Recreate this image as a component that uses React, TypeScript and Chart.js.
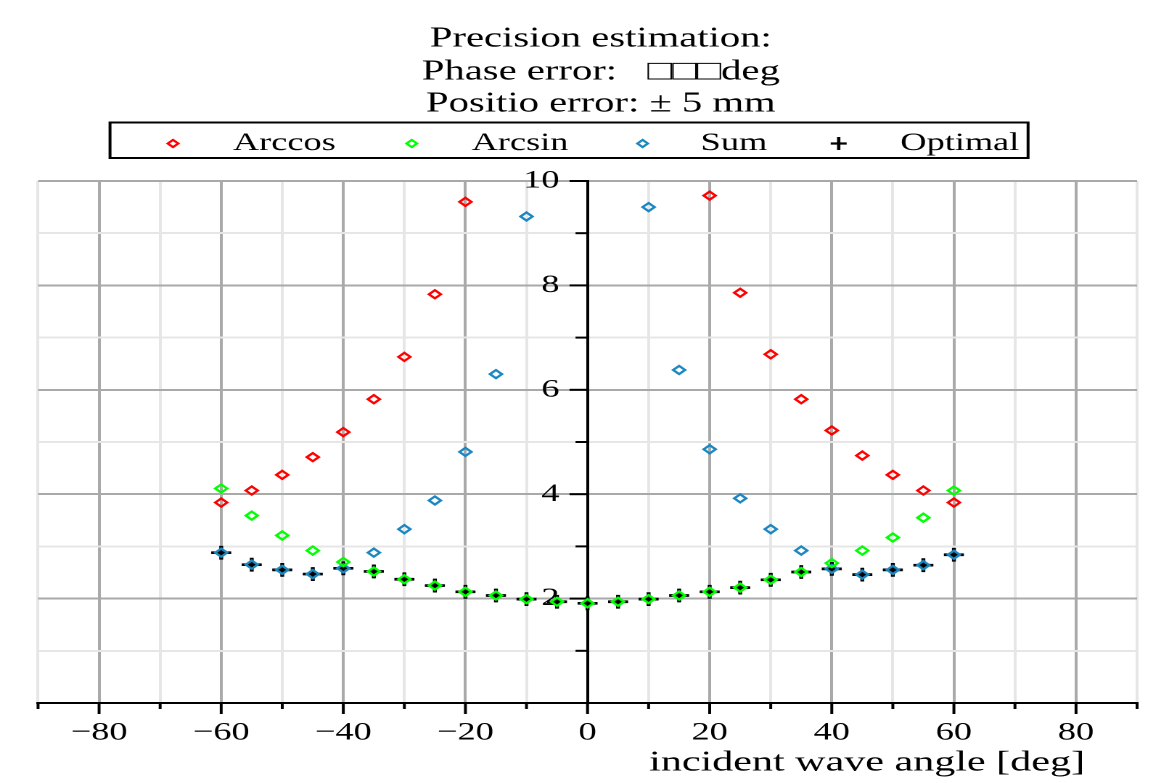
import { useEffect, useRef } from 'react';
import { Chart, registerables } from 'chart.js';

Chart.register(...registerables);

// ---- data ----
const ANGLES = [-60, -55, -50, -45, -40, -35, -30, -25, -20, -15, -10, -5, 0, 5, 10, 15, 20, 25, 30, 35, 40, 45, 50, 55, 60];
const ARCCOS = [3.84, 4.07, 4.37, 4.71, 5.19, 5.82, 6.63, 7.83, 9.6, null, null, null, null, null, null, null, 9.72, 7.86, 6.68, 5.82, 5.22, 4.74, 4.37, 4.07, 3.84];
const ARCSIN = [4.11, 3.59, 3.21, 2.92, 2.7, 2.52, 2.37, 2.25, 2.13, 2.06, 1.99, 1.94, 1.91, 1.94, 1.99, 2.06, 2.13, 2.21, 2.36, 2.51, 2.68, 2.92, 3.17, 3.55, 4.07];
const SUM = [2.88, 2.65, 2.55, 2.47, 2.58, 2.88, 3.33, 3.88, 4.81, 6.3, 9.32, null, null, null, 9.5, 6.38, 4.86, 3.92, 3.33, 2.92, 2.57, 2.46, 2.55, 2.64, 2.84];
const OPTIMAL = [2.88, 2.65, 2.55, 2.47, 2.58, 2.52, 2.37, 2.25, 2.13, 2.06, 1.99, 1.94, 1.91, 1.94, 1.99, 2.06, 2.13, 2.21, 2.36, 2.51, 2.57, 2.46, 2.55, 2.64, 2.84];

const SERIES_NAMES = ['Arccos', 'Arcsin', 'Sum', 'Optimal'];
const X_LABELED_TICKS = [-80, -60, -40, -20, 0, 20, 40, 60, 80];
const Y_LABELED_TICKS = [2, 4, 6, 8, 10];
const TITLE_LINES = ['Precision estimation:', 'Phase error:   \u25A1\u25A1\u25A1deg', 'Positio error: \u00B1 5 mm'];
const X_TITLE = 'incident wave angle [deg]';

const FONT = "'Liberation Serif', 'Times New Roman', 'DejaVu Serif', serif";
const RED = '#ff0000';
const GREEN = '#00ff00';
const BLUE = '#1b87c1';
const BLACK = '#000000';
const MAJOR_GRID = '#a9a9a9';
const MINOR_GRID = '#e6e6e6';

const W = 800; // logical width; displayed stretched to 1161 like the reference
const H = 783;

const toPoints = (vals: (number | null)[]) =>
  ANGLES.map((a, i) => ({ x: a, y: vals[i] })).filter((p) => p.y !== null);

function diamond(ctx: CanvasRenderingContext2D, x: number, y: number, r: number, color: string) {
  ctx.beginPath();
  ctx.moveTo(x - r, y);
  ctx.lineTo(x, y - r);
  ctx.lineTo(x + r, y);
  ctx.lineTo(x, y + r);
  ctx.closePath();
  ctx.strokeStyle = color;
  ctx.lineWidth = 1.9;
  ctx.stroke();
}

const decor = {
  id: 'decor',
  beforeDatasetsDraw(chart: any) {
    const { ctx, chartArea } = chart;
    const xs = chart.scales.x;
    const ys = chart.scales.y;
    ctx.save();
    ctx.strokeStyle = BLACK;
    ctx.lineWidth = 2;
    for (let v = -90; v <= 90; v += 10) {
      const px = xs.getPixelForValue(v);
      const len = v % 20 === 0 ? 11 : 6;
      ctx.beginPath();
      ctx.moveTo(px, chartArea.bottom);
      ctx.lineTo(px, chartArea.bottom + len);
      ctx.stroke();
    }
    const x0 = xs.getPixelForValue(0);
    for (let v = 1; v <= 10; v += 1) {
      const py = ys.getPixelForValue(v);
      const len = v % 2 === 0 ? 12.4 : 8.3;
      ctx.beginPath();
      ctx.moveTo(x0, py);
      ctx.lineTo(x0 - len, py);
      ctx.stroke();
    }
    ctx.restore();
  },
  afterDraw(chart: any) {
    const { ctx } = chart;
    ctx.save();
    // title
    ctx.fillStyle = BLACK;
    ctx.font = `28px ${FONT}`;
    ctx.textAlign = 'center';
    ctx.textBaseline = 'alphabetic';
    const baselines = [46.7, 79.3, 111.7];
    TITLE_LINES.forEach((t, i) => ctx.fillText(t, 414, baselines[i]));

    // legend box
    ctx.strokeStyle = BLACK;
    ctx.lineWidth = 2;
    ctx.strokeRect(75.8, 122.5, 708.4 - 75.8, 158 - 122.5);
    ctx.font = `25px ${FONT}`;
    ctx.textAlign = 'left';
    const ds = chart.data.datasets;
    const markerX = [119.2, 283.7, 442.8, 577.9];
    const textX = [160.5, 325, 482.8, 620.4];
    const my = 143.5;
    for (let i = 0; i < 4; i++) {
      const col = ds[i].borderColor;
      if (i < 3) {
        diamond(ctx, markerX[i], my, 3.6, col);
      } else {
        ctx.strokeStyle = col;
        ctx.lineWidth = 2.3;
        ctx.beginPath();
        ctx.moveTo(markerX[i] - 5.5, my);
        ctx.lineTo(markerX[i] + 5.5, my);
        ctx.moveTo(markerX[i], my - 6.5);
        ctx.lineTo(markerX[i], my + 6.5);
        ctx.stroke();
      }
      ctx.fillStyle = BLACK;
      ctx.fillText(SERIES_NAMES[i], textX[i], 150);
    }

    // x axis title
    ctx.font = `29px ${FONT}`;
    ctx.textAlign = 'right';
    ctx.fillText(X_TITLE, 747.6, 770.5);
    ctx.restore();
  },
};

export default function App() {
  const ref = useRef<HTMLCanvasElement>(null);
  useEffect(() => {
    document.body.style.margin = '0';
    const canvas = ref.current!;
    const mk = (i: number, vals: (number | null)[], color: string, style: string, radius: number, bw: number) => ({
      label: SERIES_NAMES[i],
      data: toPoints(vals),
      borderColor: color,
      backgroundColor: 'rgba(0,0,0,0)',
      pointStyle: style,
      pointRadius: radius,
      pointBorderWidth: bw,
      pointHoverRadius: radius,
      showLine: false,
    });
    const chart = new Chart(canvas, {
      type: 'scatter',
      data: {
        datasets: [
          mk(0, ARCCOS, RED, 'rectRot', 4.1, 2),
          mk(1, ARCSIN, GREEN, 'rectRot', 4.1, 2),
          mk(2, SUM, BLUE, 'rectRot', 4.1, 2),
          mk(3, OPTIMAL, BLACK, 'cross', 6.9, 2.7),
        ],
      } as any,
      options: {
        responsive: false,
        animation: false,
        devicePixelRatio: 2,
        layout: { padding: { left: 26.2, right: W - 783.5, top: 181, bottom: 0 } },
        plugins: {
          legend: { display: false },
          title: { display: false },
          tooltip: { enabled: false },
        },
        scales: {
          x: {
            type: 'linear',
            position: 'bottom',
            min: -90,
            max: 90,
            afterFit: (s: any) => {
              s.height = 80;
            },
            ticks: {
              stepSize: 10,
              autoSkip: false,
              maxRotation: 0,
              padding: 4,
              color: BLACK,
              font: { family: FONT, size: 25 },
              callback: (v: any) =>
                X_LABELED_TICKS.includes(Number(v)) ? (Number(v) < 0 ? '\u2212' + Math.abs(Number(v)) : String(v)) : '',
            },
            grid: {
              color: (c: any) => (c.tick && c.tick.value % 20 === 0 ? MAJOR_GRID : MINOR_GRID),
              lineWidth: 2,
              tickLength: 11,
              tickColor: 'rgba(0,0,0,0)',
            },
            border: { display: true, color: BLACK, width: 2 },
          },
          y: {
            type: 'linear',
            position: 'center',
            min: 0,
            max: 10,
            ticks: {
              stepSize: 1,
              autoSkip: false,
              padding: 7,
              color: BLACK,
              font: { family: FONT, size: 25 },
              callback: (v: any) => (Y_LABELED_TICKS.includes(Number(v)) ? String(v) : ''),
            },
            grid: {
              color: (c: any) => (c.tick && c.tick.value % 2 === 0 ? MAJOR_GRID : MINOR_GRID),
              lineWidth: 2,
              tickLength: 12.4,
              tickColor: 'rgba(0,0,0,0)',
            },
            border: { display: true, color: BLACK, width: 2 },
          },
        },
      },
      plugins: [decor],
    } as any);
    return () => chart.destroy();
  }, []);
  return (
    <canvas
      ref={ref}
      width={W}
      height={H}
      style={{ display: 'block', width: '1161px', height: '783px' }}
    />
  );
}
